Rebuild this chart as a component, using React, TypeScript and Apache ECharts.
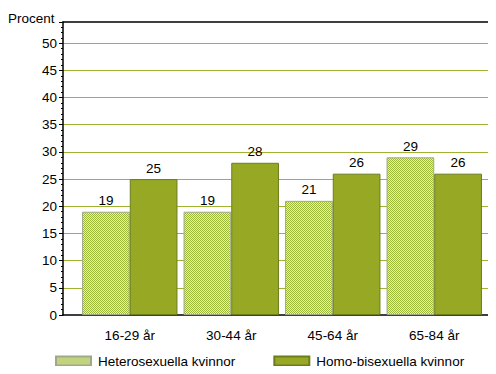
import React, { useEffect, useRef } from "react";
import * as echarts from "echarts";

const categories = ["16-29 år", "30-44 år", "45-64 år", "65-84 år"];
const heteroValues = [19, 19, 21, 29];
const homoValues = [25, 28, 26, 26];
const seriesNames = ["Heterosexuella kvinnor", "Homo-bisexuella kvinnor"];
const yTicks = [0, 5, 10, 15, 20, 25, 30, 35, 40, 45, 50];

function makePattern(): string {
  const c = document.createElement("canvas");
  c.width = 2;
  c.height = 2;
  const ctx = c.getContext("2d")!;
  ctx.fillStyle = "#e6eec4";
  ctx.fillRect(0, 0, 2, 2);
  ctx.fillStyle = "#9db838";
  ctx.fillRect(0, 0, 1, 1);
  ctx.fillRect(1, 1, 1, 1);
  return c.toDataURL();
}

export default function App() {
  const ref = useRef<HTMLDivElement>(null);
  useEffect(() => {
    if (!ref.current) return;
    const chart = echarts.init(ref.current, null, { renderer: "svg" });
    const font = "'Liberation Sans', Arial, sans-serif";
    const fs = 13.5;
    const yMax = 53.9;
    const pattern = { image: makePattern(), repeat: "repeat" } as any;
    chart.setOption({
      animation: false,
      backgroundColor: "#ffffff",
      textStyle: { fontFamily: font },
      title: {
        text: "Procent",
        left: 7,
        top: 6,
        padding: [5, 5, 5, 1],
        textStyle: { fontSize: fs, fontWeight: "normal", color: "#000", fontFamily: font },
      },
      grid: [
        { left: 63, right: -5, top: 22, bottom: 59 },
        { left: 79, width: 406, top: 22, bottom: 59 },
      ],
      xAxis: [
        {
          gridIndex: 0,
          type: "value",
          min: 0,
          max: 1,
          position: "bottom",
          axisLine: { show: true, lineStyle: { color: "#000", width: 1.5 } },
          axisTick: { show: false },
          axisLabel: { show: false },
          splitLine: { show: false },
        },
        {
          gridIndex: 0,
          type: "value",
          min: 0,
          max: 1,
          position: "top",
          axisLine: { show: true, lineStyle: { color: "#000", width: 1.5 } },
          axisTick: { show: false },
          axisLabel: { show: false },
          splitLine: { show: false },
        },
        {
          gridIndex: 1,
          type: "category",
          data: categories,
          axisLine: { show: false },
          axisTick: { show: false },
          axisLabel: { color: "#000", fontSize: fs, margin: 13, fontFamily: font },
          splitLine: { show: false },
        },
      ],
      yAxis: [
        {
          gridIndex: 0,
          type: "value",
          min: 0,
          max: yMax,
          interval: 5,
          axisLine: { show: true, lineStyle: { color: "#000", width: 1.5 } },
          axisTick: { show: true, length: 4, lineStyle: { color: "#000" } },
          minorTick: { show: true, splitNumber: 5, length: 2, lineStyle: { color: "#000" } },
          axisLabel: {
            color: "#000",
            fontSize: fs,
            margin: 6,
            fontFamily: font,
            formatter: (v: number) => (yTicks.includes(Math.round(v * 100) / 100) ? String(v) : ""),
          },
          splitLine: {
            show: true,
            showMinLine: false,
            showMaxLine: false,
            lineStyle: { color: "#a0b232", width: 1 },
          },
        },
        {
          gridIndex: 1,
          type: "value",
          min: 0,
          max: yMax,
          show: false,
        },
      ],
      legend: {
        left: 55,
        top: 354,
        padding: 0,
        icon: "rect",
        itemWidth: 35,
        itemHeight: 9,
        itemGap: 38,
        textStyle: { color: "#000", fontSize: fs, fontFamily: font, padding: [0, 0, 0, 2] },
        data: seriesNames,
        selectedMode: false,
      },
      series: [
        {
          name: seriesNames[0],
          type: "bar",
          xAxisIndex: 2,
          yAxisIndex: 1,
          data: heteroValues,
          barGap: "0%",
          barCategoryGap: "6%",
          itemStyle: { color: pattern, borderColor: "#9fa98a", borderWidth: 1 },
          label: { show: true, position: "top", distance: 4, color: "#000", fontSize: fs, fontFamily: font },
        },
        {
          name: seriesNames[1],
          type: "bar",
          xAxisIndex: 2,
          yAxisIndex: 1,
          data: homoValues,
          barGap: "0%",
          barCategoryGap: "6%",
          itemStyle: { color: "#97a825", borderColor: "#6c7d1c", borderWidth: 1 },
          label: { show: true, position: "top", distance: 4, color: "#000", fontSize: fs, fontFamily: font },
        },
      ],
    });
    return () => chart.dispose();
  }, []);
  return <div ref={ref} style={{ width: 496, height: 374, margin: -8 }} />;
}
